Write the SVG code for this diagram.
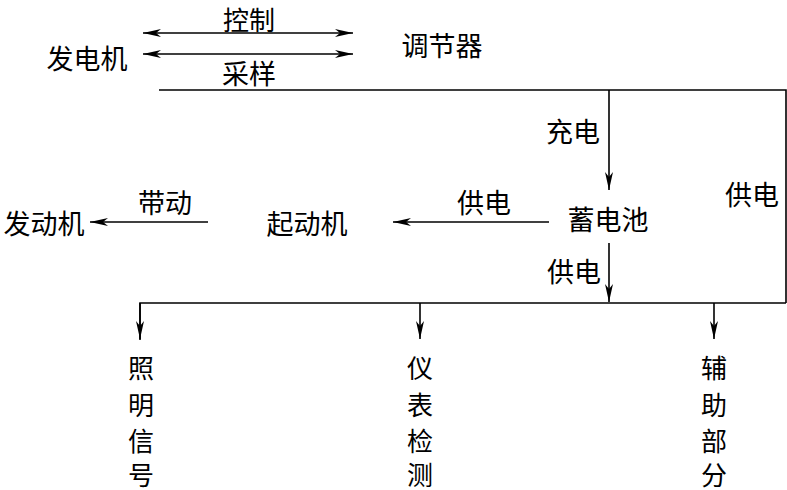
<svg xmlns="http://www.w3.org/2000/svg" width="787" height="490" viewBox="0 0 787 490">
<defs>
<marker id="ah" markerUnits="userSpaceOnUse" markerWidth="20" markerHeight="10" viewBox="-18 -5 20 10" refX="0" refY="0" orient="auto-start-reverse">
<path d="M0,0 L-18,-4 L-13,0 L-18,4 Z" fill="#000"/>
</marker>
<style>
text{font-family:"Noto Sans CJK SC","Noto Sans",sans-serif;font-size:27px;fill:#000;text-anchor:middle;dominant-baseline:central}
.v{font-size:26px}
.c line,.c polyline{stroke:#000;stroke-width:1.6;fill:none}
</style>
</defs>
<rect width="787" height="490" fill="#fff"/>
<g id="connectors" class="c">
<line x1="143" y1="33" x2="353" y2="33" marker-start="url(#ah)" marker-end="url(#ah)"/>
<line x1="143" y1="54" x2="353" y2="54" marker-start="url(#ah)" marker-end="url(#ah)"/>
<polyline points="159,90 786,90 786,303"/>
<line x1="609" y1="90" x2="609" y2="190" marker-end="url(#ah)"/>
<line x1="549" y1="222" x2="393" y2="222" marker-end="url(#ah)"/>
<line x1="208" y1="222" x2="90" y2="222" marker-end="url(#ah)"/>
<line x1="609" y1="243" x2="609" y2="302" marker-end="url(#ah)"/>
<polyline points="140,340 140,303 786,303"/>
<line x1="140" y1="303" x2="140" y2="339" marker-end="url(#ah)"/>
<line x1="420" y1="303" x2="420" y2="339" marker-end="url(#ah)"/>
<line x1="714" y1="303" x2="714" y2="339" marker-end="url(#ah)"/>
</g>
<g id="labels">
<text class="v" x="249" y="18">控制</text>
<text x="249" y="72">采样</text>
<text x="573" y="130">充电</text>
<text x="752" y="193">供电</text>
<text x="484" y="201">供电</text>
<text x="165" y="201">带动</text>
<text x="574" y="270">供电</text>
</g>
<g id="generator"><text x="87" y="57">发电机</text></g>
<g id="regulator"><text x="442" y="44">调节器</text></g>
<g id="battery"><text x="608" y="218">蓄电池</text></g>
<g id="starter"><text x="307" y="222">起动机</text></g>
<g id="engine"><text x="44" y="222">发动机</text></g>
<g id="lighting">
<text class="v" x="141" y="366">照</text><text class="v" x="141" y="403">明</text><text class="v" x="141" y="439">信</text><text class="v" x="141" y="473">号</text>
</g>
<g id="instruments">
<text class="v" x="420" y="366">仪</text><text class="v" x="420" y="403">表</text><text class="v" x="420" y="439">检</text><text class="v" x="420" y="473">测</text>
</g>
<g id="auxiliary">
<text class="v" x="714" y="366">辅</text><text class="v" x="714" y="403">助</text><text class="v" x="714" y="439">部</text><text class="v" x="714" y="473">分</text>
</g>
</svg>
